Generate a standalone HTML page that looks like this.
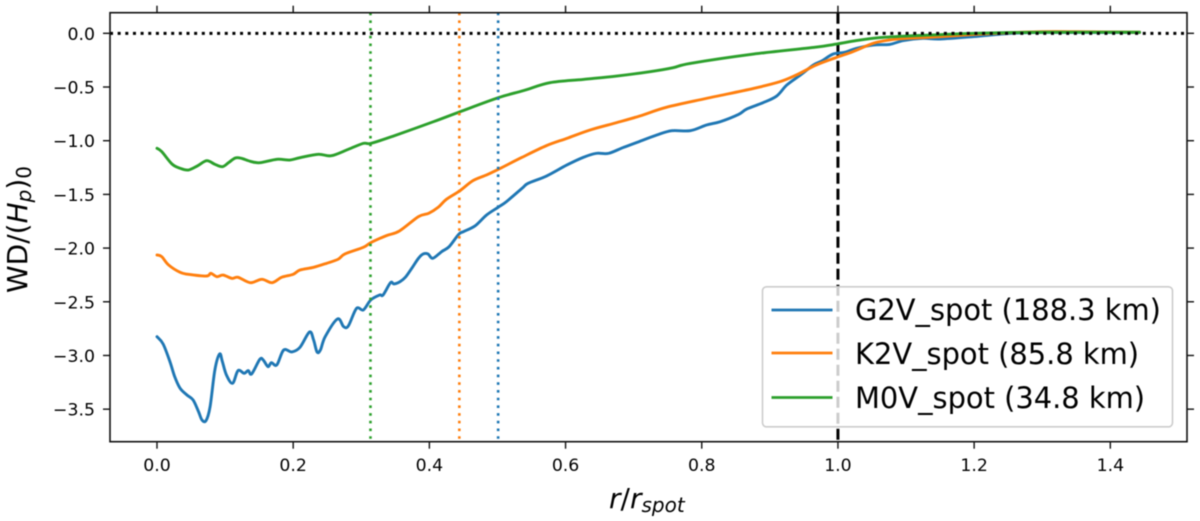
<!DOCTYPE html>
<html>
<head>
<meta charset="utf-8">
<title>WD profile chart</title>
<style>
html,body{margin:0;padding:0;background:#fff;width:1200px;height:521px;overflow:hidden}
svg{display:block;filter:blur(.5px)}
text{font-family:"DejaVu Sans","Liberation Sans",sans-serif;fill:#000}
</style>
</head>
<body>
<svg id="chart" xmlns="http://www.w3.org/2000/svg" width="1200" height="521" viewBox="0 0 1200 521"></svg>
<script>
const xTicks = [0, 0.2, 0.4, 0.6, 0.8, 1.0, 1.2, 1.4];
const xTickLabels = ["0.0", "0.2", "0.4", "0.6", "0.8", "1.0", "1.2", "1.4"];
const yTicks = [0, -0.5, -1, -1.5, -2, -2.5, -3, -3.5];
const yTickLabels = ["0.0", "\u22120.5", "\u22121.0", "\u22121.5", "\u22122.0", "\u22122.5", "\u22123.0", "\u22123.5"];
const xDomain = [-0.069, 1.5126];
const yDomain = [-3.803, 0.192];

const g2vR = [0,.009,.019,.026,.034,.044,.053,.061,.066,.072,.078,.085,.092,.096,.102,.111,.119,.128,.134,.139,.151,.156,.163,.168,.176,.186,.198,.210,.224,.230,.235,.240,.247,.265,.274,.281,.293,.303,.314,.327,.332,.343,.348,.357,.365,.375,.384,.391,.398,.405,.418,.429,.443,.450,.467,.484,.501,.513,.536,.545,.572,.602,.626,.645,.663,.684,.704,.734,.756,.783,.807,.827,.854,.866,.890,.910,.925,.945,.964,.976,.993,1.010,1.027,1.052,1.076,1.096,1.125,1.150,1.200,1.250,1.300,1.443];
const g2vV = [-2.825,-2.893,-3.057,-3.197,-3.306,-3.368,-3.414,-3.523,-3.600,-3.607,-3.476,-3.135,-2.986,-3.057,-3.182,-3.259,-3.141,-3.166,-3.141,-3.172,-3.036,-3.042,-3.104,-3.067,-3.088,-2.949,-2.967,-2.924,-2.781,-2.856,-2.967,-2.949,-2.825,-2.660,-2.731,-2.725,-2.561,-2.576,-2.483,-2.437,-2.437,-2.322,-2.334,-2.312,-2.270,-2.180,-2.095,-2.055,-2.055,-2.095,-2.033,-1.987,-1.872,-1.847,-1.794,-1.692,-1.620,-1.568,-1.444,-1.397,-1.329,-1.226,-1.155,-1.118,-1.118,-1.065,-1.018,-.947,-.907,-.907,-.854,-.823,-.755,-.705,-.646,-.584,-.481,-.388,-.295,-.258,-.193,-.177,-.140,-.109,-.103,-.068,-.047,-.053,-.030,-.002,.008,.008];

const k2vR = [0,.007,.017,.034,.046,.073,.079,.088,.097,.110,.119,.137,.154,.169,.183,.200,.210,.230,.249,.266,.276,.303,.314,.337,.356,.384,.399,.413,.425,.445,.464,.484,.504,.536,.572,.602,.636,.675,.709,.748,.807,.876,.915,.939,.968,.998,1.022,1.052,1.076,1.101,1.150,1.200,1.250,1.300,1.350,1.443];
const k2vV = [-2.064,-2.080,-2.157,-2.226,-2.244,-2.260,-2.235,-2.266,-2.251,-2.282,-2.272,-2.322,-2.291,-2.322,-2.272,-2.244,-2.204,-2.179,-2.142,-2.104,-2.055,-1.993,-1.949,-1.884,-1.841,-1.707,-1.676,-1.620,-1.546,-1.465,-1.372,-1.319,-1.258,-1.155,-1.046,-.978,-.900,-.832,-.770,-.689,-.606,-.513,-.450,-.388,-.295,-.224,-.171,-.093,-.062,-.047,-.031,-.010,.005,.015,.015,.010];

const m0vR = [0,.007,.022,.034,.046,.059,.073,.085,.096,.105,.115,.124,.137,.151,.176,.195,.210,.237,.256,.281,.303,.314,.347,.406,.445,.501,.538,.577,.626,.675,.724,.758,.783,.876,.964,.998,1.027,1.062,1.101,1.150,1.200,1.300,1.443];
const m0vV = [-1.071,-1.102,-1.217,-1.257,-1.273,-1.236,-1.186,-1.220,-1.242,-1.205,-1.161,-1.164,-1.192,-1.205,-1.173,-1.180,-1.158,-1.127,-1.140,-1.080,-1.025,-1.025,-.957,-.823,-.730,-.600,-.534,-.460,-.429,-.398,-.357,-.320,-.280,-.193,-.131,-.100,-.068,-.040,-.025,-.013,0,.010,.010];

const seriesNames = ["G2V_spot (188.3 km)", "K2V_spot (85.8 km)", "M0V_spot (34.8 km)"];
const seriesKeys = ["g2v", "k2v", "m0v"];
const seriesColors = ["#1f77b4", "#ff7f0e", "#2ca02c"];
const seriesR = [g2vR, k2vR, m0vR];
const seriesV = [g2vV, k2vV, m0vV];
const spotRadii = [0.501, 0.444, 0.3135];

const NS = "http://www.w3.org/2000/svg";
const svg = document.getElementById("chart");
const plot = {left: 110, right: 1187, top: 12.7, bottom: 441.7};
function sx(v) { return plot.left + (v - xDomain[0]) / (xDomain[1] - xDomain[0]) * (plot.right - plot.left); }
function sy(v) { return plot.bottom - (v - yDomain[0]) / (yDomain[1] - yDomain[0]) * (plot.bottom - plot.top); }
function mk(tag, attrs, parent) {
  const e = document.createElementNS(NS, tag);
  for (const k in attrs) e.setAttribute(k, attrs[k]);
  (parent || svg).appendChild(e);
  return e;
}
function vline(v, color, width, dash) {
  return mk("line", {x1: sx(v), x2: sx(v), y1: plot.top, y2: plot.bottom, stroke: color, "stroke-width": width, "stroke-dasharray": dash});
}
/* smooth curve through the sampled points */
function smoothPath(rs, vs) {
  const p = rs.map(function (r, i) { return [sx(r), sy(vs[i])]; });
  let d = "M" + p[0][0].toFixed(2) + " " + p[0][1].toFixed(2);
  for (let i = 0; i < p.length - 1; i++) {
    const a = p[Math.max(i - 1, 0)], b = p[i], c = p[i + 1], e = p[Math.min(i + 2, p.length - 1)];
    const c1x = b[0] + (c[0] - a[0]) / 6, c1y = b[1] + (c[1] - a[1]) / 6;
    const c2x = c[0] - (e[0] - b[0]) / 6, c2y = c[1] - (e[1] - b[1]) / 6;
    d += " C" + c1x.toFixed(2) + " " + c1y.toFixed(2) + " " + c2x.toFixed(2) + " " + c2y.toFixed(2) + " " + c[0].toFixed(2) + " " + c[1].toFixed(2);
  }
  return d;
}

let el;
/* ticks */
xTicks.forEach(function (t, i) {
  el = mk("line", {x1: sx(t), x2: sx(t), y1: plot.bottom, y2: plot.bottom + 7, stroke: "#111", "stroke-width": 1.4});
  
  
  el = mk("line", {x1: sx(t), x2: sx(t), y1: plot.top - 7, y2: plot.top, stroke: "#111", "stroke-width": 1.4});
  
  
  el = mk("text", {x: sx(t), y: 471, "text-anchor": "middle", "font-size": 17.3});
  el.textContent = xTickLabels[i];
  
  
});
yTicks.forEach(function (t, i) {
  el = mk("line", {x1: plot.left - 7, x2: plot.left, y1: sy(t), y2: sy(t), stroke: "#111", "stroke-width": 1.4});
  
  
  el = mk("line", {x1: plot.right, x2: plot.right + 7, y1: sy(t), y2: sy(t), stroke: "#111", "stroke-width": 1.4});
  
  
  el = mk("text", {x: 95, y: sy(t) + 6.5, "text-anchor": "end", "font-size": 17.3});
  el.textContent = yTickLabels[i];
  
  
});

/* black dashed reference at r = 1 */
el = vline(1.0, "#000", 3, "11 5");



/* series */
seriesKeys.forEach(function (key, s) {
  el = mk("path", {d: smoothPath(seriesR[s], seriesV[s]), fill: "none", stroke: seriesColors[s], "stroke-width": 2.9, "stroke-linejoin": "round", "stroke-linecap": "round"});
  
  
});

/* dotted spot radii */
spotRadii.forEach(function (r, s) {
  el = vline(r, seriesColors[s], 2.6, "2.6 5.1");
  
  
});

/* zero line */
el = mk("line", {x1: plot.left, x2: plot.right, y1: sy(0), y2: sy(0), stroke: "#000", "stroke-width": 3, "stroke-dasharray": "3 4.65"});



/* axes frame */
el = mk("rect", {x: plot.left, y: plot.top, width: plot.right - plot.left, height: plot.bottom - plot.top, fill: "none", stroke: "#111", "stroke-width": 1.6});



/* legend */
const legend = mk("g", {});


el = mk("rect", {x: 762.5, y: 286.8, width: 410, height: 140, rx: 4, ry: 4, fill: "#fff", "fill-opacity": 0.8, stroke: "#ccc", "stroke-width": 1.6}, legend);


const legendLineY = [310, 353, 397.5];
const legendTextY = [320, 364, 408];
seriesNames.forEach(function (name, s) {
  el = mk("line", {x1: 771.5, x2: 832.5, y1: legendLineY[s], y2: legendLineY[s], stroke: seriesColors[s], "stroke-width": 2.8}, legend);
  
  
  el = mk("text", {x: 855, y: legendTextY[s], "font-size": 28.9}, legend);
  el.textContent = name;
  
  
});

/* axis titles */
const yTitle = mk("text", {transform: "translate(27,293) rotate(-90)", "font-size": 28});


yTitle.innerHTML = '<tspan>WD/(</tspan><tspan font-style="italic">H</tspan><tspan font-style="italic" font-size="20" dy="4">p</tspan><tspan dy="-4">)</tspan><tspan font-size="20" dy="4">0</tspan>';

const xTitle = mk("text", {x: 609, y: 508, "font-size": 28});


xTitle.innerHTML = '<tspan font-style="italic">r</tspan><tspan>/</tspan><tspan font-style="italic">r</tspan><tspan font-style="italic" font-size="20" dy="4">spot</tspan>';
</script>
</body>
</html>
